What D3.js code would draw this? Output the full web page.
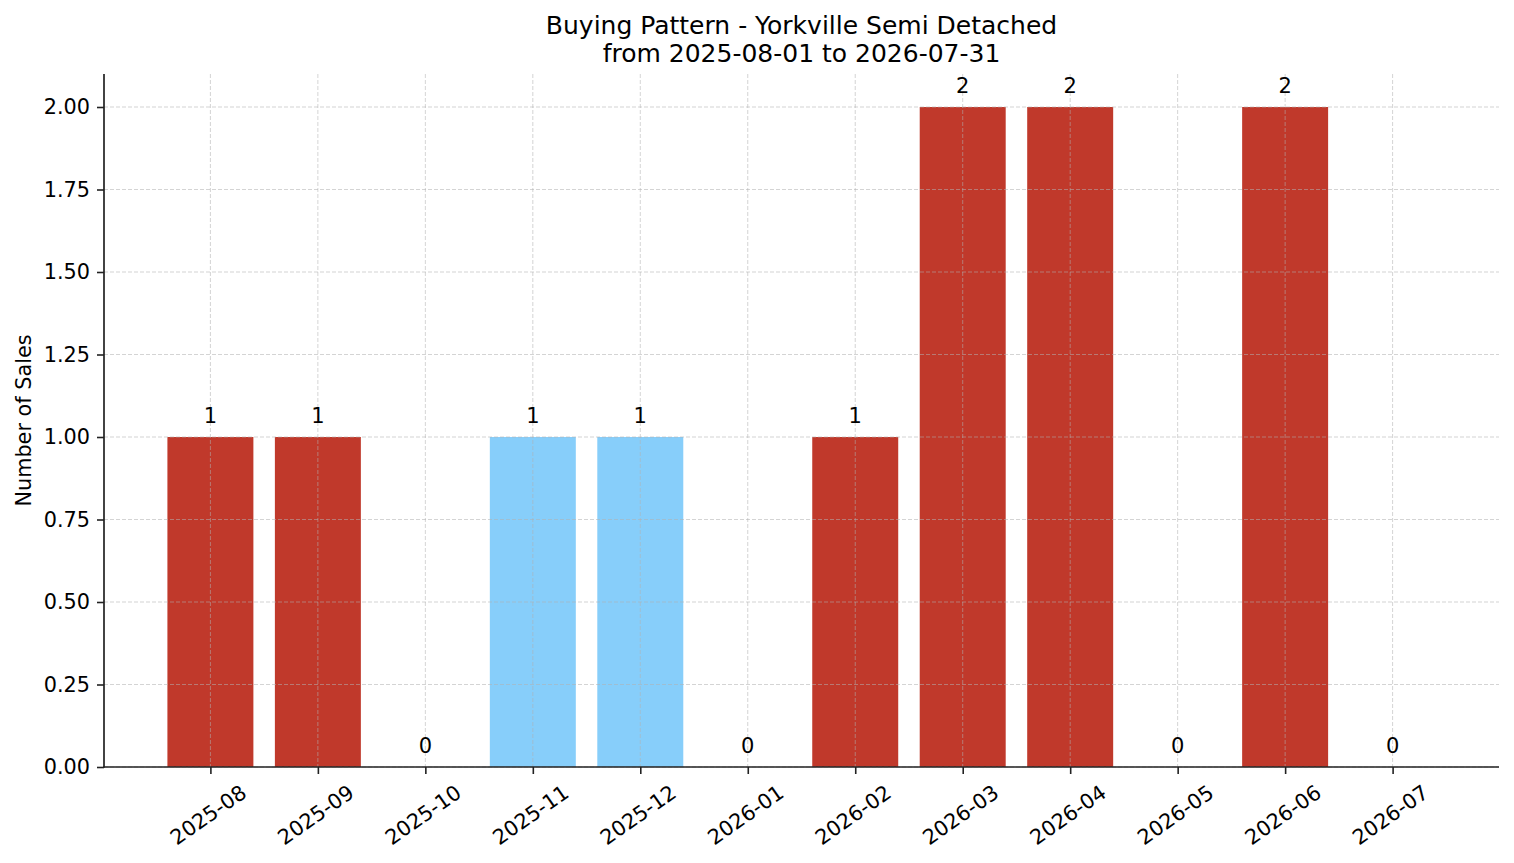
<!DOCTYPE html>
<html>
<head>
<meta charset="utf-8">
<script src="https://cdn.jsdelivr.net/npm/d3@7"></script>
<style>
    body { margin: 0; background: #fff; }
    text { font-family: "DejaVu Sans", sans-serif; fill: #000; }
</style>
</head>
<body>
<script>
// chart data
const months = ["2025-08", "2025-09", "2025-10", "2025-11", "2025-12", "2026-01",
    "2026-02", "2026-03", "2026-04", "2026-05", "2026-06", "2026-07"];
const sales = [1, 1, 0, 1, 1, 0, 1, 2, 2, 0, 2, 0];
const barKind = ["high", "high", "high", "low", "low", "high",
    "high", "high", "high", "high", "high", "high"];
const yTicks = [0, 0.25, 0.5, 0.75, 1, 1.25, 1.5, 1.75, 2];
const titleLines = ["Buying Pattern - Yorkville Semi Detached", "from 2025-08-01 to 2026-07-31"];

function drawChart() {
    let width = 1514;
    let height = 863;
    let margin = { left: 104, right: 15, top: 74, bottom: 96 };
    let colors = { high: "#c0392b", low: "#87cefa" };

    let svg = d3.select("body").append("svg")
        .attr("width", width)
        .attr("height", height);

    let x = d3.scaleLinear()
        .domain([-0.99, months.length - 1 + 0.99])
        .range([margin.left, width - margin.right]);
    let y = d3.scaleLinear()
        .domain([0, 2.1])
        .range([height - margin.bottom, margin.top]);
    let barW = x(0.8) - x(0);

    // bars
    svg.append("g").selectAll("rect")
        .data(sales)
        .enter()
        .append("rect")
        .attr("x", (d, i) => x(i) - barW / 2)
        .attr("y", d => y(d))
        .attr("width", barW)
        .attr("height", d => y(0) - y(d))
        .style("fill", (d, i) => colors[barKind[i]]);

    // grid on top of bars
    let grid = svg.append("g")
        .style("stroke", "#b0b0b0")
        .style("stroke-opacity", 0.55)
        .style("stroke-width", 1)
        .style("stroke-dasharray", "4,2");
    grid.selectAll(".gy")
        .data(yTicks)
        .enter()
        .append("line")
        .attr("x1", margin.left)
        .attr("x2", width - margin.right)
        .attr("y1", d => y(d))
        .attr("y2", d => y(d));
    grid.selectAll(".gx")
        .data(months)
        .enter()
        .append("line")
        .attr("x1", (d, i) => x(i))
        .attr("x2", (d, i) => x(i))
        .attr("y1", margin.top)
        .attr("y2", height - margin.bottom);

    // value labels
    svg.append("g").selectAll("text")
        .data(sales)
        .enter()
        .append("text")
        .attr("x", (d, i) => x(i))
        .attr("y", d => y(d) - 14)
        .attr("text-anchor", "middle")
        .style("font-size", "21px")
        .text(d => d);

    // axes
    let yAxis = d3.axisLeft(y)
        .tickValues(yTicks)
        .tickFormat(d3.format(".2f"))
        .tickSize(7)
        .tickPadding(7);
    let gy = svg.append("g")
        .attr("transform", `translate(${margin.left},0)`)
        .call(yAxis);
    let xAxis = d3.axisBottom(x)
        .tickValues(d3.range(months.length))
        .tickFormat("")
        .tickSize(7);
    let gx = svg.append("g")
        .attr("transform", `translate(0,${height - margin.bottom})`)
        .call(xAxis);
    for (const g of [gx, gy]) {
        g.select(".domain").attr("d", null);
        g.selectAll(".tick line").style("stroke", "#222").style("stroke-width", 1.6);
        g.selectAll("text").style("font-size", "20.8px").style("font-family", "DejaVu Sans").attr("fill", "#000");
    }
    gy.select(".domain").remove();
    gx.select(".domain").remove();
    svg.append("line")
        .attr("x1", margin.left).attr("x2", margin.left)
        .attr("y1", margin.top).attr("y2", height - margin.bottom + 0.8)
        .style("stroke", "#222").style("stroke-width", 1.7);
    svg.append("line")
        .attr("x1", margin.left - 0.8).attr("x2", width - margin.right)
        .attr("y1", height - margin.bottom).attr("y2", height - margin.bottom)
        .style("stroke", "#222").style("stroke-width", 1.7);

    // rotated month labels
    svg.append("g").selectAll("text")
        .data(months)
        .enter()
        .append("text")
        .attr("transform", (d, i) => `translate(${x(i) - 2},${height - margin.bottom + 48}) rotate(-35)`)
        .attr("text-anchor", "middle")
        .attr("dominant-baseline", "central")
        .style("font-size", "20.8px")
        .text(d => d);

    // y label
    svg.append("text")
        .attr("transform", `translate(24,${(margin.top + height - margin.bottom) / 2}) rotate(-90)`)
        .attr("text-anchor", "middle")
        .attr("dominant-baseline", "central")
        .style("font-size", "20.8px")
        .text("Number of Sales");

    // title
    let cx = (margin.left + width - margin.right) / 2;
    svg.append("g").selectAll("text")
        .data(titleLines)
        .enter()
        .append("text")
        .attr("x", cx)
        .attr("y", (d, i) => 34 + i * 28)
        .attr("text-anchor", "middle")
        .style("font-size", "25px")
        .text(d => d);
}

drawChart();
</script>
</body>
</html>
